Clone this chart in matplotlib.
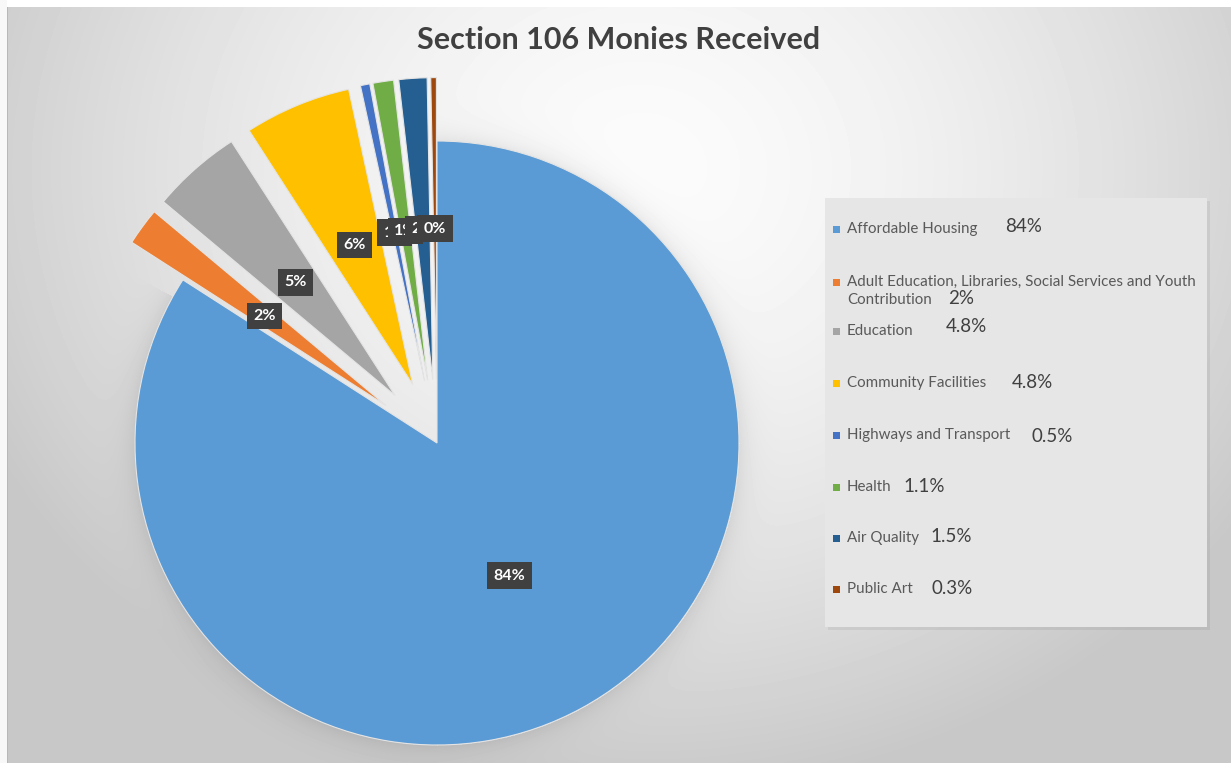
import numpy as np
import matplotlib
matplotlib.use("Agg")
import matplotlib.pyplot as plt
import matplotlib.patches as mpatches

plt.rcParams["font.family"] = ["Lato", "DejaVu Sans"]

# ── data ─────────────────────────────────────────────
categories = [
    "Affordable Housing",
    "Adult Education, Libraries, Social Services and Youth\nContribution",
    "Education",
    "Community Facilities",
    "Highways and Transport",
    "Health",
    "Air Quality",
    "Public Art",
]
shares = [84.0, 2.0, 4.8, 5.7, 0.5, 1.1, 1.5, 0.3]
legend_pct = ["84%", "2%", "4.8%", "4.8%", "0.5%", "1.1%", "1.5%", "0.3%"]
colors = ["#5b9bd5", "#ed7d31", "#a5a5a5", "#ffc000",
          "#4472c4", "#70ad47", "#255e91", "#9e480e"]

W, H = 1231, 763
cx, cy, R = 437, 443, 302  # pie centre / radius in pixels

fig = plt.figure(figsize=(W / 100, H / 100), dpi=100)

# ── background: soft radial gradient + pie shadow ───
bg = fig.add_axes([0, 0, 1, 1])
yy, xx = np.mgrid[0:H, 0:W]
d = np.sqrt(((xx - 640) / 720.0) ** 2 + ((yy - 170) / 620.0) ** 2)
img = 0.985 - 0.2 * np.clip(d, 0, 1) ** 1.6
r = np.hypot(xx - cx, yy - cy)
ang = np.degrees(np.arctan2(cy - yy, xx - cx))
in_blue = ~((ang > 90) & (ang < 151))
halo = np.where((r > R) & in_blue, 0.07 * np.exp(-(r - R) / 12.0), 0)
img = img - halo
img[:7, :] = 1.0
img[:, :7] = 0.97
img[7:, 7] = 0.72
bg.imshow(img, cmap="gray", vmin=0, vmax=1, extent=(0, W, H, 0), aspect="auto",
          interpolation="bilinear")
bg.set_xlim(0, W)
bg.set_ylim(H, 0)
bg.axis("off")

# legend box
bg.add_patch(mpatches.Rectangle((828, 201), 382, 429, fc="#000000", alpha=0.06, ec="none"))
bg.add_patch(mpatches.Rectangle((825, 198), 382, 429, fc="#e6e6e6", ec="none"))

# ── pie ──────────────────────────────────────────────
ax = fig.add_axes([0, 0, 1, 1])
ax.patch.set_alpha(0)
explode = [0] + [0.21] * (len(shares) - 1)
wedges, texts, autotexts = ax.pie(
    shares, colors=colors, startangle=90, counterclock=False,
    explode=explode, radius=1, center=(0, 0),
    autopct="%.0f%%", pctdistance=0.5,
    wedgeprops=dict(edgecolor="#e4e4e4", linewidth=0.8),
)
for t in autotexts:
    t.set_color("white")
    t.set_fontweight("bold")
    t.set_fontsize(11.5)
    t.set_bbox(dict(boxstyle="square,pad=0.4", fc="#404040", ec="none"))
ax.set_xlim(-cx / R, (W - cx) / R)
ax.set_ylim(-(H - cy) / R, cy / R)
ax.set_aspect("auto")
ax.axis("off")

# ── title ────────────────────────────────────────────
bg.text(619, 40, "Section 106 Monies Received", ha="center", va="center",
        fontsize=22, fontweight="bold", color="#404040")

# ── legend entries (manual, as in the source) ───────
row_y = [229, 282, 331, 383, 435, 487, 538, 589]
pct_xy = [(1005, 226), (948, 299), (946, 326), (1012, 382),
          (1031, 436), (903, 486), (930, 537), (932, 589)]
for i, name in enumerate(categories):
    y = row_y[i]
    bg.add_patch(mpatches.Rectangle((833, y - 3.5), 7, 7, fc=colors[i], ec="none"))
    lines = name.split("\n")
    for k, line in enumerate(lines):
        bg.text(847, y + 18 * k, line, ha="left", va="center",
                fontsize=10.9, color="#595959")
    px, py = pct_xy[i]
    bg.text(px, py, legend_pct[i], ha="left", va="center", fontsize=13.5, color="#404040")

fig.savefig("out.png", dpi=100)
